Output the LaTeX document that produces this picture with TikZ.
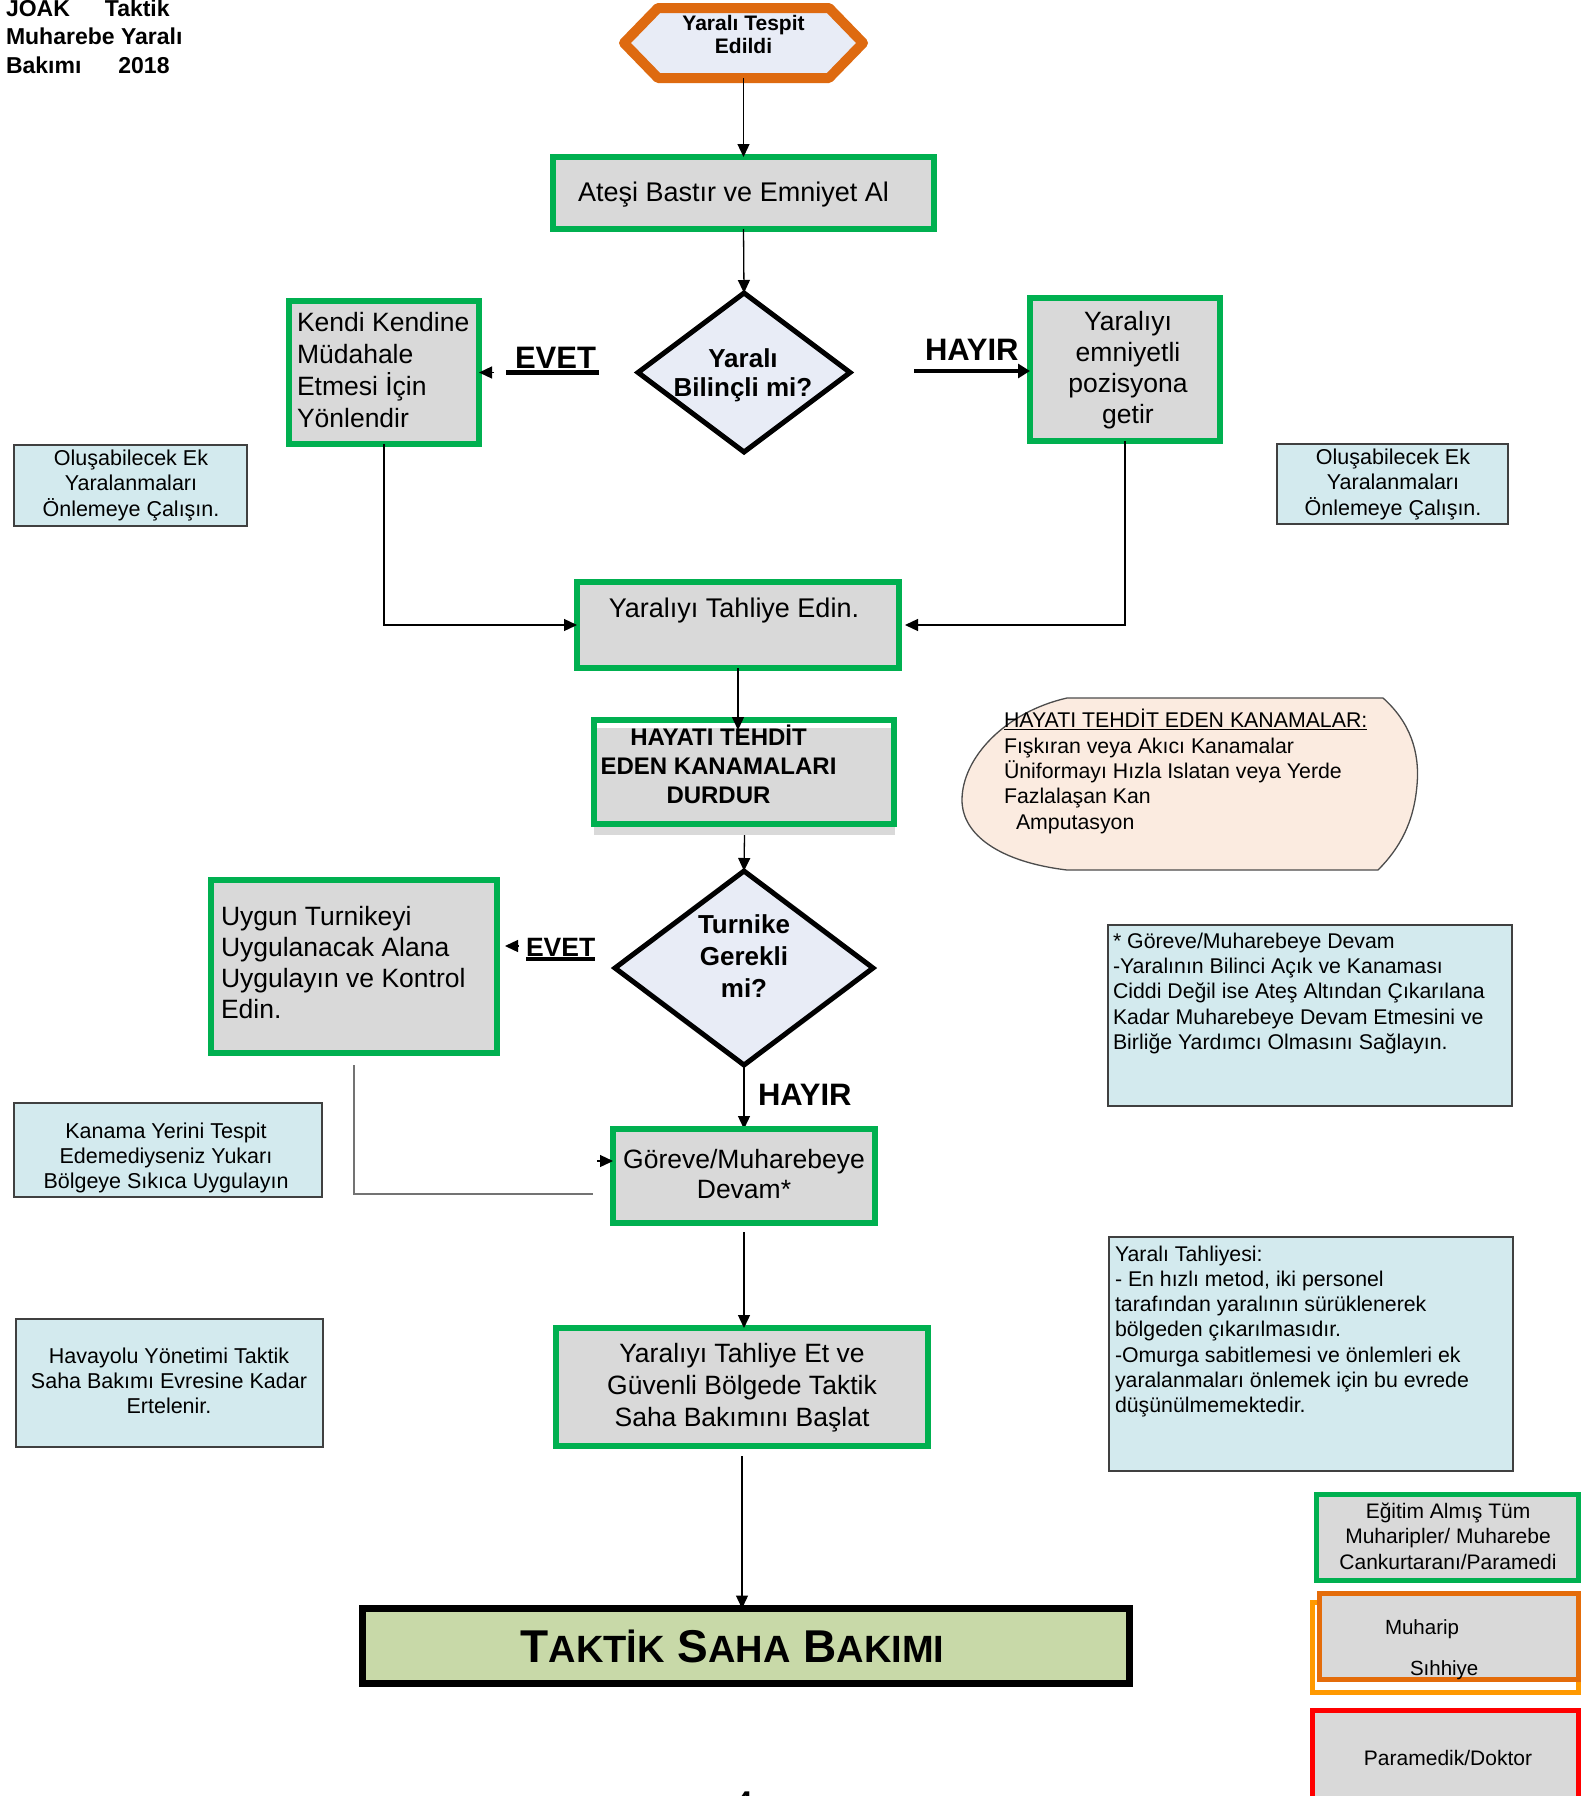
\documentclass[tikz,border=0pt]{standalone}
\usepackage{fontspec}
\setmainfont{Liberation Sans}
\usetikzlibrary{arrows.meta,shapes.geometric,calc,backgrounds}
\definecolor{grn}{HTML}{00B050}
\definecolor{boxgray}{HTML}{D9D9D9}
\definecolor{lblue}{HTML}{D3EAEE}
\definecolor{hexor}{HTML}{DE6A10}
\definecolor{hexfill}{HTML}{E8ECF6}
\definecolor{peach}{HTML}{FBEBE0}
\definecolor{olivefill}{HTML}{C8D9A8}
\definecolor{lorange}{HTML}{FF9900}
\definecolor{dorange}{HTML}{E46C0A}
\newcommand\fs[2]{\fontsize{#1}{#2}\selectfont}
\newcommand\smc[1]{{\fontsize{38}{40}\selectfont #1}}
\tikzset{
  every node/.style={inner sep=0pt, outer sep=0pt},
  gbox/.style={draw=grn, line width=6pt, fill=boxgray, rectangle},
  bbox/.style={draw=black!75, line width=1.6pt, fill=lblue, rectangle},
  tx/.style={anchor=base, align=center},
  txl/.style={anchor=base west, align=left},
  arr/.style={draw=black, line width=1.3pt, -{Triangle[length=13pt,width=12pt]}},
  dia/.style={diamond, draw=black, line width=5pt, fill=hexfill},
}
\begin{document}
\begin{tikzpicture}[x=1pt,y=-1pt]
\useasboundingbox (0,0) rectangle (1581,1796);
\begin{scope}[on background layer]
\fill[white] (0,0) rectangle (1581,1796);
\end{scope}

% title (anchor = baseline of last line)
\node[txl, font=\bfseries\fs{23}{28.5}] (title) at (6,73) {JOAK\hspace{35pt}Taktik\\Muharebe Yaralı\\Bakımı\hspace{37pt}2018};

% hexagon
\node[minimum width=239pt, minimum height=70pt] (hex) at (743.5,43) {};
\draw[draw=hexor, fill=hexfill, line width=10pt, line join=round]
  (hex.west) -- ($(hex.north west)+(34,0)$) -- ($(hex.north east)+(-34,0)$) -- (hex.east)
  -- ($(hex.south east)+(-34,0)$) -- ($(hex.south west)+(34,0)$) -- cycle;
\node[tx, font=\bfseries\fs{21}{23}] (hext) at (743.5,53) {Yaralı Tespit\\Edildi};

% Atesi
\node[gbox, minimum width=381pt, minimum height=72pt] (atesi) at (743.5,193) {};
\node[tx, font=\fs{27}{32}] (atesit) at (733.5,201) {Ateşi Bastır ve Emniyet Al};
\draw[arr] (hex.south) -- (atesi.north);

% diamond 1
\node[dia, minimum width=212pt, minimum height=159pt] (d1) at (744,372.5) {};
\node[tx, font=\bfseries\fs{26}{29}] (d1t) at (743,396) {Yaralı\\Bilinçli mi?};
\draw[arr] (atesi.south) -- (d1.north);

% Kendi
\node[gbox, minimum width=190pt, minimum height=143pt] (kendi) at (384,372.5) {};
\node[txl, font=\fs{26.5}{31.7}] (kendit) at (297,427) {Kendi Kendine\\Müdahale\\Etmesi İçin\\Yönlendir};

% EVET 1
\node[txl, font=\bfseries\fs{31}{34}] (evet1) at (515,368) {EVET};
\coordinate (ev1a) at (599,372.5);
\coordinate (ev1b) at (506,372.5);
\coordinate (ev1c) at (494,372.5);
\draw[line width=4.5pt] (ev1a) -- (ev1b);
\draw[arr] (ev1c) -- (kendi.east);

% Yaraliyi emniyetli
\node[gbox, minimum width=190pt, minimum height=143pt] (yem) at (1125,369.5) {};
\node[tx, font=\fs{26.5}{31}] (yemt) at (1128,423) {Yaralıyı\\emniyetli\\pozisyona\\getir};

% HAYIR 1
\node[txl, font=\bfseries\fs{31}{34}] (hayir1) at (925,360) {HAYIR};
\coordinate (hy1a) at (914,371);
\draw[line width=4.5pt, -{Triangle[length=12pt,width=14pt]}] (hy1a) -- (hy1a -| yem.west);

% Olusabilecek boxes
\node[bbox, minimum width=233.5pt, minimum height=81.5pt] (ol1) at (130.5,485.5) {};
\node[tx, font=\fs{21.5}{25.5}] (ol1t) at (131,516) {Oluşabilecek Ek\\Yaralanmaları\\Önlemeye Çalışın.};
\node[bbox, minimum width=231.5pt, minimum height=80.5pt] (ol2) at (1392.5,484) {};
\node[tx, font=\fs{21.5}{25.5}] (ol2t) at (1393,515) {Oluşabilecek Ek\\Yaralanmaları\\Önlemeye Çalışın.};

% Tahliye Edin
\node[gbox, minimum width=322pt, minimum height=86pt] (tah) at (738,625) {};
\node[tx, font=\fs{27}{32}] (taht) at (734,617) {Yaralıyı Tahliye Edin.};
\draw[arr] (kendi.south) |- (tah.west);
\draw[arr] (yem.south) |- ($(tah.east)+(6,0)$);

% HAYATI box
\node[fill=boxgray, minimum width=301pt, minimum height=107pt] (hayg) at (744.5,781.5) {};
\node[draw=grn, line width=6pt, minimum width=300pt, minimum height=104pt] (hay) at (744,772) {};
\node[tx, font=\bfseries\fs{24}{29}] (hayt) at (718.5,803) {HAYATI TEHDİT\\EDEN KANAMALARI\\DURDUR};
\coordinate (hyt) at (738,730);
\draw[arr] (tah.south) -- (hyt);

% oval note
\draw[draw=black!70, line width=1.3pt, fill=peach]
  (1067,698) -- (1383,698) .. controls (1410,722) and (1420,752) .. (1417,785)
  .. controls (1414,822) and (1400,848) .. (1378,870) -- (1067,870)
  .. controls (1000,862) and (962,835) .. (962,800)
  .. controls (962,758) and (1005,712) .. (1067,698) -- cycle;
\node[txl, font=\fs{21.3}{25.3}] (ovt) at (1004,829) {\underline{HAYATI TEHDİT EDEN KANAMALAR:}\\Fışkıran veya Akıcı Kanamalar\\Üniformayı Hızla Islatan veya Yerde\\Fazlalaşan Kan\\\hspace*{12pt}Amputasyon};

% diamond 2
\node[dia, minimum width=258pt, minimum height=194pt] (d2) at (744,968) {};
\node[tx, font=\bfseries\fs{26}{32}] (d2t) at (744,997) {Turnike\\Gerekli\\mi?};
\draw[arr] (hayg.south) -- (d2.north);

% Turnikeyi
\node[gbox, minimum width=286pt, minimum height=173pt] (turn) at (354,966.5) {};
\node[txl, font=\fs{26.5}{30.7}] (turnt) at (221,1018) {Uygun Turnikeyi\\Uygulanacak Alana\\Uygulayın ve Kontrol\\Edin.};

% EVET 2
\node[txl, font=\bfseries\fs{26.5}{30}] (evet2) at (526,956) {EVET};
\draw[line width=3.5pt] ($(evet2.base west)+(0,3)$) -- ($(evet2.base east)+(0,3)$);
\coordinate (ev2a) at (519,946);
\coordinate (ev2b) at (505,946);
\draw[arr] (ev2a) -- (ev2b);

% HAYIR 2
\node[txl, font=\bfseries\fs{31}{34}] (hayir2) at (758,1105) {HAYIR};

% Goreve
\node[gbox, minimum width=262pt, minimum height=94pt] (gor) at (744,1176) {};
\node[tx, font=\fs{26.5}{30}] (gort) at (744,1198) {Göreve/Muharebeye\\Devam*};
\begin{scope}[on background layer]
\draw[arr] (d2.south) -- (gor.north);
\end{scope}

% Turnikeyi -> Goreve
\coordinate (tg1) at (593,1194);
\draw[draw=black!55, line width=1.5pt] ($(turn.south)+(0,12)$) |- (tg1);
\coordinate (tg2) at (597,1161);
\draw[arr] (tg2) -- (tg2 -| gor.west);

% Tahliye Et
\node[gbox, minimum width=372pt, minimum height=118pt] (tet) at (742,1387) {};
\node[tx, font=\fs{26.5}{32}] (tett) at (742,1426) {Yaralıyı Tahliye Et ve\\Güvenli Bölgede Taktik\\Saha Bakımını Başlat};
\draw[arr, shorten <=9pt] (gor.south) -- (gor.south |- tet.north);

% Taktik Saha Bakimi
\node[draw=black, line width=7pt, fill=olivefill, minimum width=767pt, minimum height=75pt] (tsb) at (746,1646) {};
\node[tx, font=\bfseries\fs{46}{50}] (tsbt) at (732.5,1662) {T\smc{AKTİK} S\smc{AHA} B\smc{AKIMI}};
\draw[arr, shorten <=10pt] (tet.south) -- (tet.south |- tsb.north);

% right info boxes
\node[bbox, minimum width=404.5pt, minimum height=181.5pt] (rb1) at (1310,1015.5) {};
\node[txl, font=\fs{21.3}{25.4}] (rb1t) at (1113,1049.6) {* Göreve/Muharebeye Devam\\-Yaralının Bilinci Açık ve Kanaması\\Ciddi Değil ise Ateş Altından Çıkarılana\\Kadar Muharebeye Devam Etmesini ve\\Birliğe Yardımcı Olmasını Sağlayın.};
\node[bbox, minimum width=404.5pt, minimum height=234.5pt] (rb2) at (1311,1354) {};
\node[txl, font=\fs{21.3}{25.3}] (rb2t) at (1115,1412.8) {Yaralı Tahliyesi:\\- En hızlı metod, iki personel\\tarafından yaralının sürüklenerek\\bölgeden çıkarılmasıdır.\\-Omurga sabitlemesi ve önlemleri ek\\yaralanmaları önlemek için bu evrede\\düşünülmemektedir.};

% left info boxes
\node[bbox, minimum width=308.5pt, minimum height=94.5pt] (kan) at (168,1150) {};
\node[tx, font=\fs{21.5}{25}] (kant) at (166,1188) {Kanama Yerini Tespit\\Edemediyseniz Yukarı\\Bölgeye Sıkıca Uygulayın};
\node[bbox, minimum width=307.5pt, minimum height=128.5pt] (hav) at (169.5,1383) {};
\node[tx, font=\fs{21.5}{25}] (havt) at (169,1413) {Havayolu Yönetimi Taktik\\Saha Bakımı Evresine Kadar\\Ertelenir.};

% legend
\node[draw=grn, line width=5pt, fill=boxgray, minimum width=262pt, minimum height=86pt] (lg1) at (1447.5,1537.5) {};
\node[tx, font=\fs{21}{25.5}] (lg1t) at (1448,1569) {Eğitim Almış Tüm\\Muharipler/ Muharebe\\Cankurtaranı/Paramedi};
\node[draw=lorange, line width=5pt, fill=white, minimum width=266pt, minimum height=90pt] (lg2a) at (1445.5,1647.5) {};
\node[draw=dorange, line width=5pt, fill=boxgray, minimum width=259pt, minimum height=86pt] (lg2) at (1449,1636.5) {};
\node[txl, font=\fs{20.5}{24}] (mu1) at (1385,1634) {Muharip};
\node[txl, font=\fs{20.5}{24}] (mu2) at (1410,1675) {Sıhhiye};
\node[draw=red, line width=5pt, fill=boxgray, minimum width=266pt, minimum height=97pt] (lg3) at (1445.5,1759) {};
\node[tx, font=\fs{21}{25}] (lg3t) at (1448,1765) {Paramedik/Doktor};

% page number (cut off, as in the reference)
\node[tx, font=\bfseries\fs{30}{34}] (pgn) at (744,1812) {4};
\end{tikzpicture}
\end{document}
